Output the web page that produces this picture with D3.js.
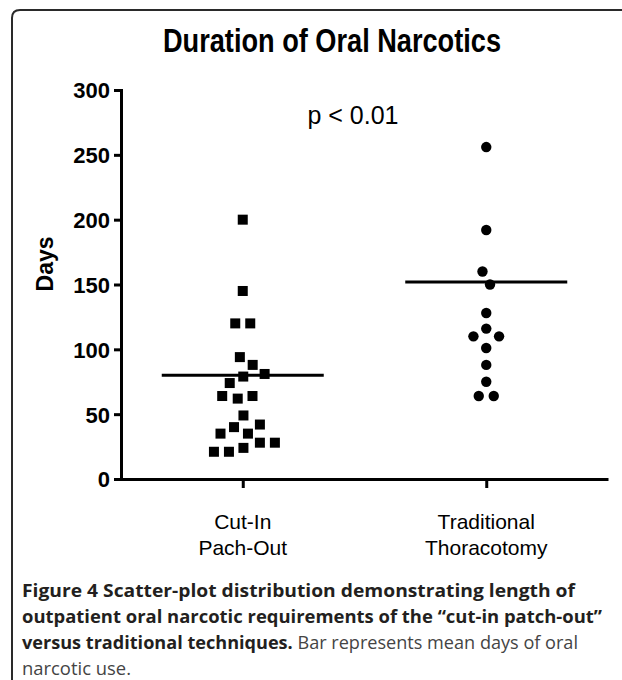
<!DOCTYPE html>
<html lang="en">
<head>
  <meta charset="UTF-8">
  <title>Duration of Oral Narcotics</title>
  <script src="https://d3js.org/d3.v7.min.js"></script>
  <style>
    body {
      margin: 0;
      background-color: #ffffff;
    }
    .axis text {
      font-family: "Liberation Sans", Arial, sans-serif;
      font-weight: bold;
      font-size: 22px;
      fill: #000;
    }
    .caption {
      font-family: "Open Sans", sans-serif;
      font-size: 18.5px;
    }
  </style>
</head>
<body>
  <div id="chart"></div>

  <script>
    // data
    const groups = ["Cut-In Pach-Out", "Traditional Thoracotomy"];
    const groupLabels = [["Cut-In", "Pach-Out"], ["Traditional", "Thoracotomy"]];
    const cutInDays = [200, 145, 120, 120, 94, 88, 81, 79, 74, 64, 64, 62, 49, 42, 40, 35, 35, 28, 28, 24, 21, 21];
    const traditionalDays = [256, 192, 160, 150, 128, 116, 110, 110, 101, 88, 75, 64, 64];
    const meanDays = [80, 152];
    const yTicks = [0, 50, 100, 150, 200, 250, 300];
    const captionLines = [
      [{ t: "Figure 4 Scatter-plot distribution demonstrating length of", b: true }],
      [{ t: "outpatient oral narcotic requirements of the \u201ccut-in patch-out\u201d", b: true }],
      [{ t: "versus traditional techniques.", b: true }, { t: " Bar represents mean days of oral", b: false }],
      [{ t: "narcotic use.", b: false }]
    ];
    const captionWidths = [553, 580, 556, 109];

    const width = 622, height = 680;
    const margin = { top: 90, right: 14, bottom: 201, left: 121 };

    const svg = d3.select("#chart").append("svg").attr("width", width).attr("height", height);

    // rounded frame (only top and left edges fall inside the picture)
    svg.append("path")
      .attr("d", "M12,700 V18 Q12,10 20,10 H640")
      .attr("fill", "none")
      .attr("stroke", "#2a2a2a")
      .attr("stroke-width", 2);

    const x = d3.scalePoint().domain(groups).range([margin.left, width - margin.right]).padding(0.5);
    const y = d3.scaleLinear().domain([0, 300]).range([height - margin.bottom, margin.top]);

    // title
    svg.append("text")
      .attr("x", 332)
      .attr("y", 52)
      .attr("text-anchor", "middle")
      .attr("textLength", 338)
      .attr("lengthAdjust", "spacingAndGlyphs")
      .style("font-family", "'Liberation Sans', Arial, sans-serif")
      .style("font-weight", "bold")
      .style("font-size", "34px")
      .text("Duration of Oral Narcotics");

    // y axis
    const yAxis = svg.append("g")
      .attr("class", "axis")
      .attr("transform", `translate(${margin.left},0)`)
      .call(d3.axisLeft(y).tickValues(yTicks).tickSize(7).tickSizeOuter(0).tickPadding(4));
    yAxis.selectAll("line").attr("stroke-width", 3);
    yAxis.select(".domain").attr("stroke-width", 3).attr("stroke-linecap", "square");
    yAxis.selectAll("text").attr("dy", "0.36em");

    // x axis
    const xAxis = svg.append("g")
      .attr("class", "axis")
      .attr("transform", `translate(0,${y(0)})`)
      .call(d3.axisBottom(x).tickSize(9).tickSizeOuter(0).tickFormat(""));
    xAxis.selectAll("line").attr("stroke-width", 3);
    xAxis.select(".domain").attr("stroke-width", 3);

    groups.forEach((g, i) => {
      const t = svg.append("text")
        .attr("text-anchor", "middle")
        .style("font-family", "'Liberation Sans', Arial, sans-serif")
        .style("font-size", "21px");
      groupLabels[i].forEach((line, j) => {
        t.append("tspan").attr("x", x(g)).attr("y", y(0) + 50 + j * 26).text(line);
      });
    });

    // y label
    svg.append("text")
      .attr("transform", `translate(53,264) rotate(-90)`)
      .attr("text-anchor", "middle")
      .style("font-family", "'Liberation Sans', Arial, sans-serif")
      .style("font-weight", "bold")
      .style("font-size", "23px")
      .text("Days");

    // p value
    svg.append("text")
      .attr("x", 353)
      .attr("y", 124)
      .attr("text-anchor", "middle")
      .style("font-family", "'Liberation Sans', Arial, sans-serif")
      .style("font-size", "25px")
      .text("p < 0.01");

    // swarm layout: y fixed by value, x spread by collision
    function swarm(values, cx) {
      const nodes = values.map(v => ({ v: v, x: cx, y: y(v), fy: y(v) }));
      const sim = d3.forceSimulation(nodes)
        .force("x", d3.forceX(cx).strength(0.03))
        .force("collide", d3.forceCollide(7.5))
        .stop();
      for (let k = 0; k < 300; k++) sim.tick();
      return nodes;
    }

    const g1 = swarm(cutInDays, x(groups[0]));
    const g2 = swarm(traditionalDays, x(groups[1]));

    svg.append("g").selectAll("rect").data(g1).join("rect")
      .attr("x", d => d.x - 5)
      .attr("y", d => y(d.v) - 5)
      .attr("width", 10)
      .attr("height", 10)
      .attr("fill", "#000");

    svg.append("g").selectAll("circle").data(g2).join("circle")
      .attr("cx", d => d.x)
      .attr("cy", d => y(d.v))
      .attr("r", 5.2)
      .attr("fill", "#000");

    // mean bars
    svg.append("g").selectAll("line").data(groups).join("line")
      .attr("x1", d => x(d) - 81)
      .attr("x2", d => x(d) + 81)
      .attr("y1", (d, i) => y(meanDays[i]))
      .attr("y2", (d, i) => y(meanDays[i]))
      .attr("stroke", "#000")
      .attr("stroke-width", 3);

    // caption
    captionLines.forEach((line, i) => {
      const t = svg.append("text")
        .attr("class", "caption")
        .attr("x", 22)
        .attr("y", 597 + i * 26)
        .attr("textLength", captionWidths[i])
        .attr("lengthAdjust", "spacingAndGlyphs");
      line.forEach(part => {
        t.append("tspan")
          .style("font-weight", part.b ? "bold" : "normal")
          .attr("fill", part.b ? "#231f20" : "#444")
          .text(part.t);
      });
    });
  </script>
</body>
</html>
